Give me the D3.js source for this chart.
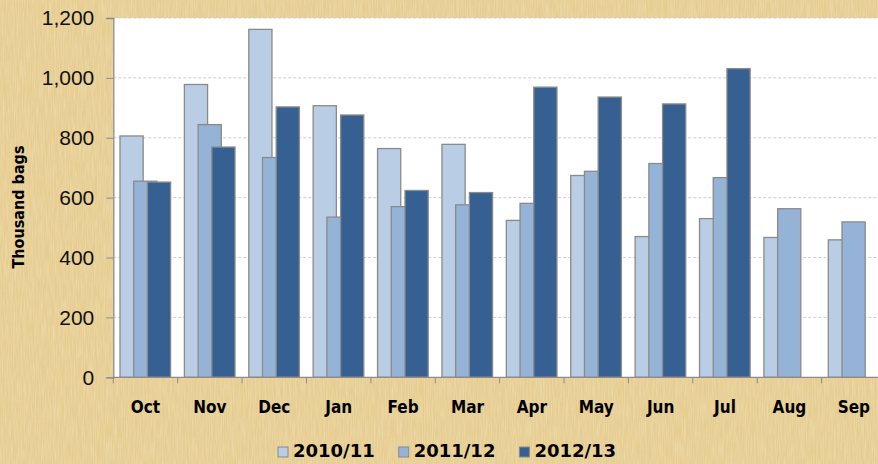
<!DOCTYPE html>
<html>
<head>
<meta charset="utf-8">
<script src="https://cdn.jsdelivr.net/npm/d3@7"></script>
<style>
  html, body { margin: 0; padding: 0; background: #e6cc8f; }
  svg { display: block; }
</style>
</head>
<body>
<svg id="chart"></svg>
<script>
// monthly shipments, thousand bags
const months = ["Oct", "Nov", "Dec", "Jan", "Feb", "Mar", "Apr", "May", "Jun", "Jul", "Aug", "Sep"];
const seasons = ["2010/11", "2011/12", "2012/13"];
const season1 = [806, 978, 1162, 907, 764, 778, 524, 674, 470, 530, 467, 459];
const season2 = [655, 844, 734, 535, 570, 576, 581, 688, 714, 667, 563, 519];
const season3 = [652, 769, 903, 876, 624, 617, 969, 936, 913, 1031, null, null];
const yTicks = [0, 200, 400, 600, 800, 1000, 1200];
const colors = ["#b9cde5", "#95b3d7", "#366092"];

const W = 878, H = 464;
const plot = { left: 113.3, top: 18, right: 886, bottom: 377.3 };

const svg = d3.select("#chart").attr("width", W).attr("height", H);

// parchment-like background
const defs = svg.append("defs");
const f = defs.append("filter").attr("id", "paper").attr("x", 0).attr("y", 0).attr("width", "100%").attr("height", "100%");
f.append("feTurbulence").attr("type", "fractalNoise").attr("baseFrequency", "0.9 0.05").attr("numOctaves", 2).attr("seed", 3).attr("result", "n1");
f.append("feColorMatrix").attr("in", "n1").attr("type", "matrix")
  .attr("values", "0 0 0 0 0.98  0 0 0 0 0.90  0 0 0 0 0.70  0 0 0 -1.1 0.75");
const f2 = defs.append("filter").attr("id", "paper2").attr("x", 0).attr("y", 0).attr("width", "100%").attr("height", "100%");
f2.append("feTurbulence").attr("type", "fractalNoise").attr("baseFrequency", "0.04 0.8").attr("numOctaves", 2).attr("seed", 7).attr("result", "n2");
f2.append("feColorMatrix").attr("in", "n2").attr("type", "matrix")
  .attr("values", "0 0 0 0 0.78  0 0 0 0 0.66  0 0 0 0 0.42  0 0 0 -1.2 0.72");

svg.append("rect").attr("width", W).attr("height", H).attr("fill", "#e6cc8f");
svg.append("rect").attr("width", W).attr("height", H).attr("filter", "url(#paper)").attr("opacity", 0.55);
svg.append("rect").attr("width", W).attr("height", H).attr("filter", "url(#paper2)").attr("opacity", 0.45);

// scales
const x = d3.scaleBand().domain(months).range([plot.left, plot.right]).padding(0);
const y = d3.scaleLinear().domain([0, 1200]).range([plot.bottom, plot.top]);

// plot area
svg.append("rect")
  .attr("x", plot.left).attr("y", plot.top)
  .attr("width", W - plot.left).attr("height", plot.bottom - plot.top)
  .attr("fill", "#ffffff");

// gridlines
svg.append("g")
  .selectAll("line")
  .data(yTicks.filter(d => d > 0))
  .join("line")
  .attr("x1", plot.left).attr("x2", W)
  .attr("y1", d => y(d)).attr("y2", d => y(d))
  .attr("stroke", "#cfcfcf")
  .attr("stroke-dasharray", "3,2");

// bars
const series = [season1, season2, season3];
const bw = x.bandwidth();
const barW = bw * 0.36;
const step = bw * 0.213;
const start = bw * 0.104;

series.forEach((vals, i) => {
  svg.append("g")
    .selectAll("rect")
    .data(months.map((m, j) => ({ month: m, value: vals[j] })).filter(d => d.value != null))
    .join("rect")
    .attr("x", d => x(d.month) + start + i * step)
    .attr("y", d => y(d.value))
    .attr("width", barW)
    .attr("height", d => y(0) - y(d.value))
    .attr("fill", colors[i])
    .attr("stroke", "#8a8a8a")
    .attr("stroke-width", 1.3);
});

// y axis
const yAxis = svg.append("g")
  .attr("transform", `translate(${plot.left},0)`)
  .call(d3.axisLeft(y).tickValues(yTicks).tickFormat(d3.format(",")).tickSize(7).tickPadding(12));
yAxis.select(".domain").attr("stroke", "#8c8c8c").attr("stroke-width", 1.3);
yAxis.selectAll(".tick line").attr("stroke", "#8c8c8c");
yAxis.selectAll("text")
  .attr("font-family", "'Liberation Sans', Arial, sans-serif")
  .attr("font-size", 21)
  .attr("fill", "#111");

// x axis
const xAxis = svg.append("g")
  .attr("transform", `translate(0,${plot.bottom})`)
  .call(d3.axisBottom(x).tickSize(0).tickPadding(24));
xAxis.select(".domain").remove();
xAxis.append("line")
  .attr("x1", plot.left).attr("x2", W)
  .attr("stroke", "#8c8c8c").attr("stroke-width", 1.3);
xAxis.selectAll(".bound")
  .data(months)
  .join("line")
  .attr("class", "bound")
  .attr("x1", d => x(d)).attr("x2", d => x(d))
  .attr("y1", 0).attr("y2", 6)
  .attr("stroke", "#8c8c8c");
xAxis.selectAll(".tick text")
  .attr("font-family", "'DejaVu Sans Condensed', 'DejaVu Sans', sans-serif")
  .attr("font-weight", "bold")
  .attr("font-size", 17)
  .attr("fill", "#000");

// y title
svg.append("text")
  .attr("transform", "translate(24,207) rotate(-90)")
  .attr("text-anchor", "middle")
  .attr("font-family", "'DejaVu Sans Condensed', 'DejaVu Sans', sans-serif")
  .attr("font-weight", "bold")
  .attr("font-size", 16)
  .attr("fill", "#000")
  .text("Thousand bags");

// legend
const legend = svg.append("g").attr("transform", "translate(278,447)");
const items = legend.selectAll("g")
  .data(seasons)
  .join("g")
  .attr("transform", (d, i) => `translate(${i * 120.7},0)`);
items.append("rect")
  .attr("width", 10).attr("height", 10)
  .attr("fill", (d, i) => colors[i])
  .attr("stroke", "#8a8a8a");
items.append("text")
  .attr("x", 15).attr("y", 10)
  .attr("font-family", "'DejaVu Sans', sans-serif")
  .attr("font-weight", "bold")
  .attr("font-size", 18)
  .attr("fill", "#000")
  .text(d => d);
</script>
</body>
</html>
